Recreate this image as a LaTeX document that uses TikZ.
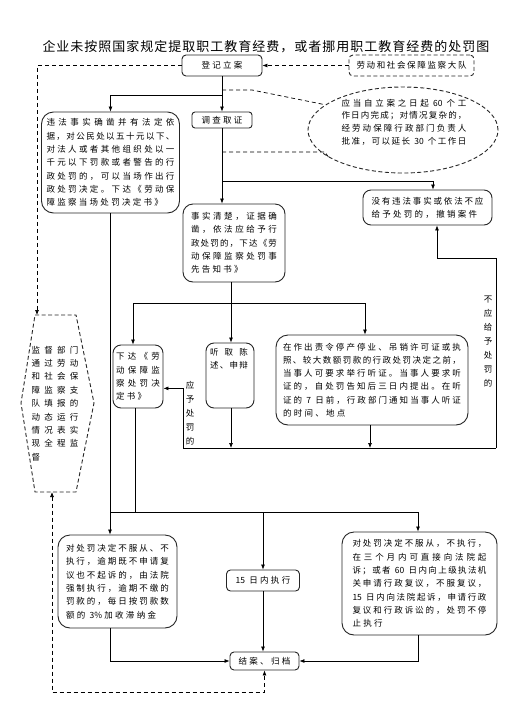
\documentclass[tikz,border=0pt]{standalone}
\usepackage{fontspec}
\usetikzlibrary{arrows.meta,shapes.geometric}
\newfontfamily\cjk{Noto Sans CJK SC}
\newcount\cjkc
\cjkc="4E00
\loop \XeTeXcharclass\cjkc=7 \advance\cjkc by 1 \ifnum\cjkc<"A000 \repeat
\cjkc="3000
\loop \XeTeXcharclass\cjkc=7 \advance\cjkc by 1 \ifnum\cjkc<"3040 \repeat
\cjkc="FF00
\loop \XeTeXcharclass\cjkc=7 \advance\cjkc by 1 \ifnum\cjkc<"FFF0 \repeat
\XeTeXinterchartokenstate=1
\newdimen\cjkgap
\cjkgap=2.3pt
\def\cjkglue{\hskip\cjkgap plus 10pt minus \cjkgap\relax}
\XeTeXinterchartoks 7 7 = {\cjkglue}
\XeTeXinterchartoks 0 7 = {\cjkglue}
\XeTeXinterchartoks 7 0 = {\cjkglue}
\hbadness=10000
\newcommand\jl[2]{\makebox[#1pt][s]{#2}}
\newcommand\gsp{\enspace}
\tikzset{
  base/.style={font=\cjk\fontsize{8.5pt}{13.3pt}\selectfont, inner sep=0pt, text=black},
  bx/.style={base, draw=black!85, line width=0.9pt, rounded corners=#1, align=left},
  bx/.default=4pt,
  dbx/.style={bx=#1, dash pattern=on 4pt off 2.5pt},
  dbx/.default=4pt,
  txt/.style={base, align=left},
  vlab/.style={font=\cjk\fontsize{8.5pt}{14pt}\selectfont, inner sep=0pt, align=center},
  ln/.style={line width=0.7pt, draw=black},
  arr/.style={ln, -{Latex[length=5pt,width=4pt]}},
  dln/.style={ln, dash pattern=on 4pt off 3pt},
  darr/.style={dln, -{Latex[length=5pt,width=4pt]}},
  ddarr/.style={dln, {Latex[length=5pt,width=4pt]}-{Latex[length=5pt,width=4pt]}},
}
\begin{document}
\begin{tikzpicture}[x=1pt,y=-1pt]
\useasboundingbox (0,0) rectangle (522,713);
\fill[white] (0,0) rectangle (522,713);

% title
\node[font=\cjk\fontsize{13pt}{15pt}\selectfont, inner sep=0pt] (title) at (266,47)
  {\jl{447}{企业未按照国家规定提取职工教育经费，或者挪用职工教育经费的处罚图}};

% boxes
\node[bx=4pt, minimum width=80pt, minimum height=21pt] (reg) at (222,65.5) {登记立案};
\node[dbx=4pt, minimum width=125pt, minimum height=21pt] (team) at (411.5,65.5) {\jl{110}{劳动和社会保障监察大队}};
\node[bx=3pt, minimum width=60pt, minimum height=16pt] (inv) at (222,120) {调查取证};

\node[bx=12pt, minimum width=138pt, minimum height=101pt] (spot) at (110.5,162.5) {%
\jl{128}{违法事实确凿并有法定依}\\
\jl{128}{据，对公民处以五十元以下、}\\
\jl{128}{对法人或者其他组织处以一}\\
\jl{128}{千元以下罚款或者警告的行}\\
\jl{128}{政处罚的，可以当场作出行}\\
\jl{128}{政处罚决定。下达《劳动保}\\
障监察当场处罚决定书》};

\node[ellipse, draw=black!85, line width=0.9pt, dash pattern=on 4pt off 2.5pt,
      minimum width=190pt, minimum height=86pt, inner sep=0pt] (ell) at (403,130) {};
\node[txt, font=\cjk\fontsize{8.5pt}{12.6pt}\selectfont] (eltext) at (404,122) {%
\jl{125}{应当自立案之日起\gsp 60\gsp 个工}\\
\jl{125}{作日内完成；对情况复杂的，}\\
\jl{125}{经劳动保障行政部门负责人}\\
\jl{125}{批准，可以延长\gsp 30\gsp 个工作日}};

\node[bx=10pt, minimum width=102pt, minimum height=78pt] (fact) at (234,243) {%
\jl{86}{事实清楚，证据确}\\
\jl{86}{凿，依法应给予行}\\
\jl{86}{政处罚的，下达《劳}\\
\jl{86}{动保障监察处罚事}\\
先告知书》};

\node[bx=8pt, minimum width=129pt, minimum height=35pt] (cancel) at (427.5,207.5) {%
\jl{112}{没有违法事实或依法不应}\\
给予处罚的，撤销案件};

\node[bx=8pt, minimum width=50pt, minimum height=63pt] (dec) at (138,376.5) {%
\jl{44}{下达《劳}\\
\jl{44}{动保障监}\\
\jl{44}{察处罚决}\\
定书》};

\node[bx=8pt, minimum width=48pt, minimum height=65pt] (hear) at (230,375.5) {};
\node[txt] (heartext) at (229,359) {\jl{38}{听取陈}\\ \jl{38}{述、申辩}};

\node[bx=12pt, minimum width=192pt, minimum height=90pt] (hearing) at (372,380) {%
\jl{178}{在作出责令停产停业、吊销许可证或执}\\
\jl{178}{照、较大数额罚款的行政处罚决定之前，}\\
\jl{178}{当事人可要求举行听证。当事人要求听}\\
\jl{178}{证的，自处罚告知后三日内提出。在听}\\
\jl{178}{证的\gsp 7\gsp 日前，行政部门通知当事人听证}\\
的时间、地点};

\node[bx=12pt, minimum width=119pt, minimum height=93pt] (bl) at (117.5,581.5) {%
\jl{103}{对处罚决定不服从、不}\\
\jl{103}{执行，逾期既不申请复}\\
\jl{103}{议也不起诉的，由法院}\\
\jl{103}{强制执行，逾期不缴的}\\
\jl{103}{罚款的，每日按罚款数}\\
额的\gsp 3\%加收滞纳金};

\node[bx=4pt, minimum width=73pt, minimum height=21pt] (d15) at (263,580.5) {15\gsp 日内执行};

\node[bx=12pt, minimum width=155pt, minimum height=103pt] (br) at (419.5,583.5) {%
\jl{134}{对处罚决定不服从，不执行，}\\
\jl{134}{在三个月内可直接向法院起}\\
\jl{134}{诉；或者\gsp 60\gsp 日内向上级执法机}\\
\jl{134}{关申请行政复议，不服复议，}\\
\jl{134}{15\gsp 日内向法院起诉，申请行政}\\
\jl{134}{复议和行政诉讼的，处罚不停}\\
止执行};

\node[bx=4pt, minimum width=69pt, minimum height=18pt] (end) at (264.5,661) {结案、归档};

% hexagon
\coordinate (hTL) at (35,315);
\coordinate (hTR) at (76,315);
\coordinate (hR) at (94,403);
\coordinate (hBR) at (76,492);
\coordinate (hBL) at (35,492);
\coordinate (hL) at (21,403);
\draw[line width=0.9pt, draw=black!85, dash pattern=on 4pt off 2.5pt]
  (hTL) -- (hTR) -- (hR) -- (hBR) -- (hBL) -- (hL) -- cycle;
\node[txt, font=\cjk\fontsize{8.5pt}{13.4pt}\selectfont] (hex) at (55,403.5) {%
\jl{47}{监督部门}\\
\jl{47}{通过劳动}\\
\jl{47}{和社会保}\\
\jl{47}{障监察支}\\
\jl{47}{队填报的}\\
\jl{47}{动态运行}\\
\jl{47}{情况表实}\\
\jl{47}{现全程监}\\
督};

% vertical labels
\node[vlab] (lab1) at (190,413.5) {应\\予\\处\\罚\\的};
\node[vlab] (lab2) at (488,341) {不\\应\\给\\予\\处\\罚\\的};

% coordinates
\coordinate (b1) at (222,95);
\coordinate (b2) at (222,181);
\coordinate (b2r) at (433,181);
\coordinate (ctip) at (222,90);
\coordinate (cbend) at (252,90);
\coordinate (ctail) at (222,152);
\coordinate (cbend2) at (325,152);
\coordinate (f1) at (231,303);
\coordinate (fl) at (133,303);
\coordinate (fr) at (365,303);
\coordinate (cl) at (183,448);
\coordinate (r1) at (496,448);
\coordinate (r2) at (496,258);
\coordinate (r3) at (437,258);
\coordinate (bj1) at (110,512);
\coordinate (bj2) at (418,512);
\coordinate (bj3) at (263,512);
\coordinate (hin) at (37,315);
\coordinate (hb) at (52,492);
\coordinate (lowc) at (52,692);

% connectors
\draw[darr] (team.west) -- (reg.east);
\draw[darr] (reg.west) -| (hin);
\draw[arr] (reg.south) -- (inv.north);
\draw[arr] (b1) -| (spot.north);
\draw[dln] (ctip) -- (cbend) -- (ell.162);
\draw[dln] (ctail) -- (cbend2) -- (ell.200);
\draw[arr] (inv.south) -- (inv.south |- fact.north);
\draw[ln] (b2) -- (b2r);
\draw[arr] (b2r) -- (b2r |- cancel.north);
\draw[ln] (fact.south -| f1) -- (f1);
\draw[ln] (fl) -- (fr);
\draw[arr] (fl) -- (fl |- dec.north);
\draw[arr] (f1) -- (f1 |- hear.north);
\draw[arr] (fr) -- (fr |- hearing.north);
\draw[arr] (f1 |- hear.south) -- (f1 |- cl);
\draw[arr] (hearing.south -| 370,0) -- (370,448);
\draw[ln] (cl) -- (r1);
\draw[arr] (cl) |- (dec.-25);
\draw[ln] (r1) -- (r2) -- (r3);
\draw[arr] (r3) -- (r3 |- cancel.south);
\draw[ln] (spot.south -| bj1) -- (bj1);
\draw[ln] (dec.south -| 135,0) -- (135,512);
\draw[ln] (bj1) -- (bj2);
\draw[arr] (bj1) -- (bj1 |- bl.north);
\draw[arr] (bj3) -- (bj3 |- d15.north);
\draw[arr] (bj2) -- (bj2 |- br.north);
\draw[arr] (bj1 |- bl.south) |- (end.west);
\draw[arr] (d15.south) -- (d15.south |- end.north);
\draw[arr] (bj2 |- br.south) |- (end.east);
\draw[ddarr] (hb) -- (lowc) -| (end.south);
\end{tikzpicture}
\end{document}
